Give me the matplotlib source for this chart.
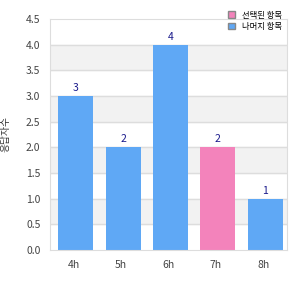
import numpy as np
import matplotlib.pyplot as plt
from matplotlib.patches import Patch

plt.rcParams['font.family'] = ['Noto Sans CJK KR', 'DejaVu Sans']

hours = ['4h', '5h', '6h', '7h', '8h']
counts = [3, 2, 4, 2, 1]
highlight = [False, False, False, True, False]
y_label = '응답자수'
legend_labels = ['선택된 항목', '나머지 항목']

blue = '#5fa8f5'
pink = '#f383bb'

fig = plt.figure(figsize=(3, 3), dpi=100)
ax = fig.add_axes([0.167, 0.167, 0.79, 0.77])

# abwechselnde graue Streifen
for lo in np.arange(0.5, 4.5, 1.0):
    ax.axhspan(lo, lo + 0.5, color='#f2f2f2', zorder=0)
for yv in np.arange(0.5, 4.5, 0.5):
    ax.axhline(yv, color='#dddddd', linewidth=1, zorder=1)

x = np.arange(len(hours))
colors = [pink if h else blue for h in highlight]
bars = ax.bar(x + 0.04, counts, width=0.74, color=colors, zorder=2)
for xi, c in zip(x, counts):
    ax.annotate(f'{c}', (xi + 0.04, c), textcoords='offset points', xytext=(0, 2),
                ha='center', va='bottom', fontsize=7.5, color='#1a1a8c')

ax.set_xlim(-0.5, len(hours) - 0.5)
ax.set_ylim(0, 4.5)
ax.set_yticks(np.arange(0, 4.51, 0.5))
ax.set_yticklabels([f'{v:.1f}' for v in np.arange(0, 4.51, 0.5)])
ax.set_xticks(x)
ax.set_xticklabels(hours)
ax.tick_params(length=0, labelsize=7.5, labelcolor='#444444', pad=7)
for s in ax.spines.values():
    s.set_color('#dddddd')
ax.set_ylabel(y_label, fontsize=7, color='#333333')
ax.yaxis.set_label_coords(-0.165, 0.5)

handles = [Patch(facecolor=pink, edgecolor='#888888', linewidth=1),
           Patch(facecolor=blue, edgecolor='#888888', linewidth=1)]
fig.legend(handles, legend_labels, loc='upper left', bbox_to_anchor=(0.735, 0.99),
           frameon=False, fontsize=6, handlelength=0.8, handleheight=0.8,
           handletextpad=0.9, labelspacing=0.3)

fig.savefig('out.png', dpi=100)
